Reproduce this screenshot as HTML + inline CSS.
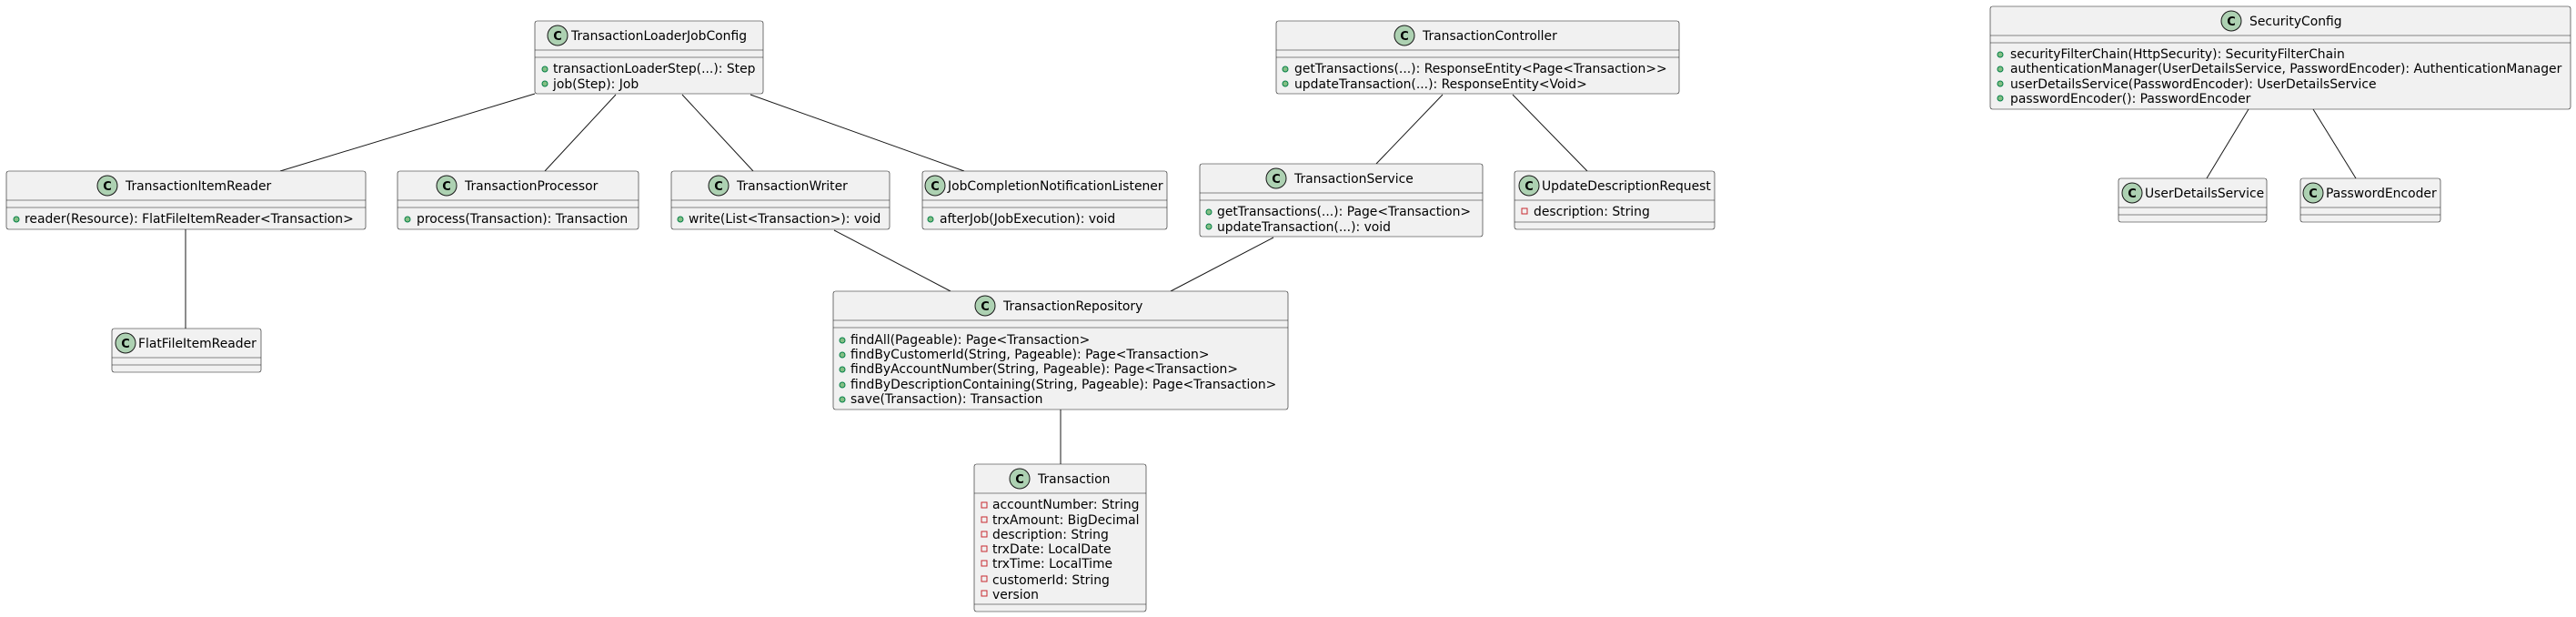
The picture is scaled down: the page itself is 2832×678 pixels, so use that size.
<!DOCTYPE html>
<html><head><meta charset="utf-8"><style>
html,body{margin:0;padding:0;background:#fff;}
svg{display:block;}
text{font-family:"DejaVu Sans","Liberation Sans",sans-serif;font-size:13.9px;fill:#000;}
.b{fill:#F1F1F1;stroke:#181818;stroke-width:0.6;}
.d{stroke:#181818;stroke-width:0.6;}
.l{stroke:#181818;stroke-width:1;fill:none;}
.c{fill:#ADD1B2;stroke:#181818;stroke-width:1;}
.ct{font-weight:bold;font-size:13px;text-anchor:middle;}
.pub{fill:#84BE84;stroke:#038048;stroke-width:1;}
.pri{fill:none;stroke:#C82930;stroke-width:1;}
</style></head><body>
<svg width="2832" height="678" viewBox="0 0 2832 678" xmlns="http://www.w3.org/2000/svg">
<line class="l" x1="588" y1="103" x2="308" y2="188"/>
<line class="l" x1="677" y1="104" x2="599" y2="188"/>
<line class="l" x1="750" y1="104" x2="828" y2="188"/>
<line class="l" x1="825" y1="104" x2="1060" y2="188"/>
<line class="l" x1="917" y1="253" x2="1045" y2="320"/>
<line class="l" x1="1400" y1="261" x2="1287" y2="320"/>
<line class="l" x1="1586" y1="104" x2="1513" y2="180"/>
<line class="l" x1="1663" y1="104" x2="1745" y2="188"/>
<line class="l" x1="204" y1="252" x2="204" y2="361"/>
<line class="l" x1="1166" y1="450" x2="1166" y2="510"/>
<line class="l" x1="2472" y1="120" x2="2426" y2="196"/>
<line class="l" x1="2543" y1="120" x2="2590" y2="196"/>

<rect class="b" x="588" y="23" width="251" height="80" rx="2.5"/>
<line class="d" x1="588" y1="55" x2="839" y2="55"/><line class="d" x1="588" y1="63" x2="839" y2="63"/>
<circle class="c" cx="613" cy="39" r="11"/><text class="ct" x="613" y="44">C</text>
<text x="628" y="44">TransactionLoaderJobConfig</text>
<circle class="pub" cx="599" cy="76" r="3"/><text x="608" y="80">transactionLoaderStep(...): Step</text>
<circle class="pub" cx="599" cy="92" r="3"/><text x="608" y="97">job(Step): Job</text>

<rect class="b" x="7" y="188" width="395" height="64" rx="2.5"/>
<line class="d" x1="7" y1="220" x2="402" y2="220"/><line class="d" x1="7" y1="228" x2="402" y2="228"/>
<circle class="c" cx="118" cy="204" r="11"/><text class="ct" x="118" y="209">C</text>
<text x="138" y="209">TransactionItemReader</text>
<circle class="pub" cx="18" cy="241" r="3"/><text x="27" y="245">reader(Resource): FlatFileItemReader&lt;Transaction&gt;</text>

<rect class="b" x="437" y="188" width="265" height="64" rx="2.5"/>
<line class="d" x1="437" y1="220" x2="702" y2="220"/><line class="d" x1="437" y1="228" x2="702" y2="228"/>
<circle class="c" cx="491" cy="204" r="11"/><text class="ct" x="491" y="209">C</text>
<text x="511" y="209">TransactionProcessor</text>
<circle class="pub" cx="448" cy="241" r="3"/><text x="458" y="245">process(Transaction): Transaction</text>

<rect class="b" x="738" y="188" width="240" height="64" rx="2.5"/>
<line class="d" x1="738" y1="220" x2="978" y2="220"/><line class="d" x1="738" y1="228" x2="978" y2="228"/>
<circle class="c" cx="790" cy="204" r="11"/><text class="ct" x="790" y="209">C</text>
<text x="810" y="209">TransactionWriter</text>
<circle class="pub" cx="748" cy="241" r="3"/><text x="757" y="245">write(List&lt;Transaction&gt;): void</text>

<rect class="b" x="1014" y="188" width="269" height="64" rx="2.5"/>
<line class="d" x1="1014" y1="220" x2="1283" y2="220"/><line class="d" x1="1014" y1="228" x2="1283" y2="228"/>
<circle class="c" cx="1028" cy="204" r="11"/><text class="ct" x="1028" y="209">C</text>
<text x="1042" y="209">JobCompletionNotificationListener</text>
<circle class="pub" cx="1023" cy="241" r="3"/><text x="1033" y="245">afterJob(JobExecution): void</text>

<rect class="b" x="1403" y="23" width="443" height="80" rx="2.5"/>
<line class="d" x1="1403" y1="55" x2="1846" y2="55"/><line class="d" x1="1403" y1="63" x2="1846" y2="63"/>
<circle class="c" cx="1544" cy="39" r="11"/><text class="ct" x="1544" y="44">C</text>
<text x="1564" y="44">TransactionController</text>
<circle class="pub" cx="1413" cy="76" r="3"/><text x="1423" y="80">getTransactions(...): ResponseEntity&lt;Page&lt;Transaction&gt;&gt;</text>
<circle class="pub" cx="1413" cy="92" r="3"/><text x="1423" y="97">updateTransaction(...): ResponseEntity&lt;Void&gt;</text>

<rect class="b" x="1319" y="180" width="311" height="80" rx="2.5"/>
<line class="d" x1="1319" y1="212" x2="1630" y2="212"/><line class="d" x1="1319" y1="220" x2="1630" y2="220"/>
<circle class="c" cx="1403" cy="196" r="11"/><text class="ct" x="1403" y="201">C</text>
<text x="1423" y="201">TransactionService</text>
<circle class="pub" cx="1329" cy="233" r="3"/><text x="1338" y="237">getTransactions(...): Page&lt;Transaction&gt;</text>
<circle class="pub" cx="1329" cy="249" r="3"/><text x="1338" y="254">updateTransaction(...): void</text>

<rect class="b" x="1665" y="188" width="220" height="64" rx="2.5"/>
<line class="d" x1="1665" y1="220" x2="1885" y2="220"/><line class="d" x1="1665" y1="244" x2="1885" y2="244"/>
<circle class="c" cx="1681" cy="204" r="11"/><text class="ct" x="1681" y="209">C</text>
<text x="1695" y="209">UpdateDescriptionRequest</text>
<rect class="pri" x="1673" y="229" width="6" height="6"/><text x="1686" y="237">description: String</text>

<rect class="b" x="2188" y="7" width="638" height="113" rx="2.5"/>
<line class="d" x1="2188" y1="39" x2="2826" y2="39"/><line class="d" x1="2188" y1="47" x2="2826" y2="47"/>
<circle class="c" cx="2453" cy="23" r="11"/><text class="ct" x="2453" y="28">C</text>
<text x="2473" y="28">SecurityConfig</text>
<circle class="pub" cx="2199" cy="60" r="3"/><text x="2210" y="64">securityFilterChain(HttpSecurity): SecurityFilterChain</text>
<circle class="pub" cx="2199" cy="76" r="3"/><text x="2210" y="80">authenticationManager(UserDetailsService, PasswordEncoder): AuthenticationManager</text>
<circle class="pub" cx="2199" cy="92" r="3"/><text x="2210" y="97">userDetailsService(PasswordEncoder): UserDetailsService</text>
<circle class="pub" cx="2199" cy="108" r="3"/><text x="2210" y="113">passwordEncoder(): PasswordEncoder</text>

<rect class="b" x="2329" y="196" width="163" height="48" rx="2.5"/>
<line class="d" x1="2329" y1="228" x2="2492" y2="228"/><line class="d" x1="2329" y1="236" x2="2492" y2="236"/>
<circle class="c" cx="2344" cy="212" r="11"/><text class="ct" x="2344" y="217">C</text>
<text x="2358" y="217">UserDetailsService</text>

<rect class="b" x="2529" y="196" width="154" height="48" rx="2.5"/>
<line class="d" x1="2529" y1="228" x2="2683" y2="228"/><line class="d" x1="2529" y1="236" x2="2683" y2="236"/>
<circle class="c" cx="2543" cy="212" r="11"/><text class="ct" x="2543" y="217">C</text>
<text x="2557" y="217">PasswordEncoder</text>

<rect class="b" x="123" y="361" width="164" height="48" rx="2.5"/>
<line class="d" x1="123" y1="393" x2="287" y2="393"/><line class="d" x1="123" y1="401" x2="287" y2="401"/>
<circle class="c" cx="138" cy="377" r="11"/><text class="ct" x="138" y="382">C</text>
<text x="152" y="382">FlatFileItemReader</text>

<rect class="b" x="916" y="320" width="500" height="130" rx="2.5"/>
<line class="d" x1="916" y1="352" x2="1416" y2="352"/><line class="d" x1="916" y1="360" x2="1416" y2="360"/>
<circle class="c" cx="1083" cy="336" r="11"/><text class="ct" x="1083" y="341">C</text>
<text x="1103" y="341">TransactionRepository</text>
<circle class="pub" cx="926" cy="374" r="3"/><text x="935" y="378">findAll(Pageable): Page&lt;Transaction&gt;</text>
<circle class="pub" cx="926" cy="390" r="3"/><text x="935" y="394">findByCustomerId(String, Pageable): Page&lt;Transaction&gt;</text>
<circle class="pub" cx="926" cy="406" r="3"/><text x="935" y="410">findByAccountNumber(String, Pageable): Page&lt;Transaction&gt;</text>
<circle class="pub" cx="926" cy="423" r="3"/><text x="935" y="427">findByDescriptionContaining(String, Pageable): Page&lt;Transaction&gt;</text>
<circle class="pub" cx="926" cy="439" r="3"/><text x="935" y="443">save(Transaction): Transaction</text>

<rect class="b" x="1071" y="510" width="189" height="162" rx="2.5"/>
<line class="d" x1="1071" y1="542" x2="1260" y2="542"/><line class="d" x1="1071" y1="664" x2="1260" y2="664"/>
<circle class="c" cx="1121" cy="526" r="11"/><text class="ct" x="1121" y="531">C</text>
<text x="1141" y="531">Transaction</text>
<rect class="pri" x="1079" y="552" width="6" height="6"/><text x="1091" y="559">accountNumber: String</text>
<rect class="pri" x="1079" y="568" width="6" height="6"/><text x="1091" y="576">trxAmount: BigDecimal</text>
<rect class="pri" x="1079" y="584" width="6" height="6"/><text x="1091" y="592">description: String</text>
<rect class="pri" x="1079" y="600" width="6" height="6"/><text x="1091" y="608">trxDate: LocalDate</text>
<rect class="pri" x="1079" y="616" width="6" height="6"/><text x="1091" y="624">trxTime: LocalTime</text>
<rect class="pri" x="1079" y="633" width="6" height="6"/><text x="1091" y="642">customerId: String</text>
<rect class="pri" x="1079" y="649" width="6" height="6"/><text x="1091" y="658">version</text>
</svg>
</body></html>
